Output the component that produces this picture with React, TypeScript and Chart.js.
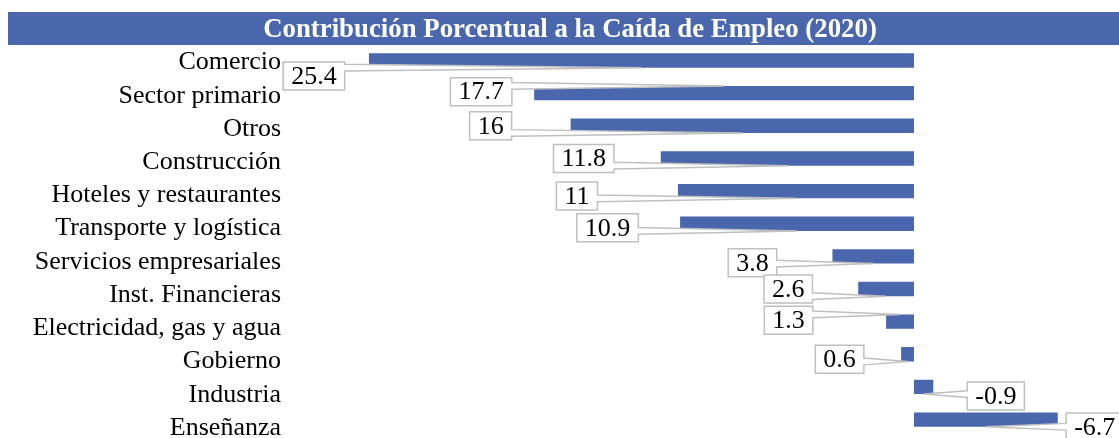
import React, { useEffect, useRef } from 'react';
import { Chart, registerables } from 'chart.js';

Chart.register(...registerables);

const titleText = 'Contribución Porcentual a la Caída de Empleo (2020)';
const categories = [
  'Comercio',
  'Sector primario',
  'Otros',
  'Construcción',
  'Hoteles y restaurantes',
  'Transporte y logística',
  'Servicios empresariales',
  'Inst. Financieras',
  'Electricidad, gas y agua',
  'Gobierno',
  'Industria',
  'Enseñanza',
];
const contribution = [25.4, 17.7, 16, 11.8, 11, 10.9, 3.8, 2.6, 1.3, 0.6, -0.9, -6.7];
const valueLabels = ['25.4', '17.7', '16', '11.8', '11', '10.9', '3.8', '2.6', '1.3', '0.6', '-0.9', '-6.7'];

// callout placement (offset of the label box centre from bar end / bar centre, px)
const calloutDx = [-55, -53, -80, -77, -101, -72.5, -80, -70, -97.5, -61.5, 62.5, 37];
const calloutDy = [15.5, -1.5, 0, 0, 5, 4, 6.5, 0, -1.5, 5, 9, 7.5];

const SERIF = "'Liberation Serif', 'Times New Roman', serif";
const BLUE = '#4A67AE';

const titleBarPlugin = {
  id: 'titleBar',
  beforeDraw(chart: any) {
    const ctx = chart.ctx;
    ctx.save();
    ctx.fillStyle = BLUE;
    ctx.fillRect(0, 4, chart.width, 33);
    ctx.fillStyle = '#FFFFFF';
    ctx.font = `bold 26.8px ${SERIF}`;
    ctx.textAlign = 'center';
    ctx.textBaseline = 'middle';
    ctx.fillText(titleText, 562, 22);
    ctx.restore();
  },
};

const calloutPlugin = {
  id: 'callouts',
  afterDatasetsDraw(chart: any) {
    const ctx = chart.ctx;
    const meta = chart.getDatasetMeta(0);
    ctx.save();
    ctx.font = `26px ${SERIF}`;
    meta.data.forEach((bar: any, i: number) => {
      const p = bar.getProps(['x', 'y', 'base', 'height'], true);
      const tipX = (p.x + p.base) / 2;
      const dy = calloutDy[i];
      const tipY = dy < 0 ? p.y - p.height / 2 : p.y + p.height / 2;
      const text = valueLabels[i];
      const w = ctx.measureText(text).width + 16;
      const h = 28;
      const cx = p.x + calloutDx[i];
      const cy = p.y + dy;
      const L = cx - w / 2, R = cx + w / 2, T = cy - h / 2, B = cy + h / 2;
      const bc = Math.min(Math.max(tipY, T + 0.2 * h), B - 0.2 * h);
      const b1 = bc - 0.12 * h, b2 = bc + 0.12 * h;
      ctx.beginPath();
      ctx.moveTo(L, T);
      ctx.lineTo(R, T);
      if (tipX > R) {
        ctx.lineTo(R, b1);
        ctx.lineTo(tipX, tipY);
        ctx.lineTo(R, b2);
      }
      ctx.lineTo(R, B);
      ctx.lineTo(L, B);
      if (tipX < L) {
        ctx.lineTo(L, b2);
        ctx.lineTo(tipX, tipY);
        ctx.lineTo(L, b1);
      }
      ctx.closePath();
      ctx.fillStyle = '#FFFFFF';
      ctx.fill();
      ctx.strokeStyle = '#BFBFBF';
      ctx.lineWidth = 1.5;
      ctx.stroke();
      ctx.fillStyle = '#000000';
      ctx.textAlign = 'center';
      ctx.textBaseline = 'middle';
      ctx.fillText(text, cx, cy + 1);
    });
    ctx.restore();
  },
};

export default function App() {
  const canvasRef = useRef<HTMLCanvasElement | null>(null);

  useEffect(() => {
    if (!canvasRef.current) return;
    const chart = new Chart(canvasRef.current, {
      type: 'bar',
      data: {
        labels: categories,
        datasets: [
          {
            data: contribution,
            xAxisID: 'x',
            yAxisID: 'y',
            backgroundColor: BLUE,
            borderWidth: 0,
            barPercentage: 0.44,
            categoryPercentage: 1,
          },
        ],
      },
      options: {
        indexAxis: 'y',
        responsive: false,
        animation: false,
        devicePixelRatio: 1,
        layout: { padding: { top: 36.2, bottom: 2.1, left: 0, right: 0 } },
        plugins: {
          legend: { display: false },
          tooltip: { enabled: false },
          title: { display: false },
        },
        scales: {
          x: { display: false, reverse: true, min: -9.553, max: 29.17 },
          y: {
            type: 'category',
            display: false,
            afterFit: (s: any) => {
              s.paddingTop = 0;
              s.paddingBottom = 0;
            },
          },
          yl: {
            type: 'linear',
            axis: 'y',
            position: 'left',
            reverse: true,
            offset: false,
            bounds: 'data',
            grace: 0,
            min: -0.551,
            max: 11.237,
            grid: { display: false, drawTicks: false, offset: false },
            border: { display: false },
            afterBuildTicks: (s: any) => {
              s.ticks = categories.map((_, i) => ({ value: i }));
            },
            ticks: {
              color: '#000000',
              font: { family: SERIF, size: 26 },
              padding: 7,
              autoSkip: false,
              callback: (v: any) => categories[v],
            },
            afterFit: (s: any) => {
              s.width = 280;
              s.paddingTop = 0;
              s.paddingBottom = 0;
            },
          },
        },
      },
      plugins: [titleBarPlugin, calloutPlugin],
    } as any);
    return () => chart.destroy();
  }, []);

  return (
    <div style={{ position: 'fixed', left: 8, top: 8, width: 1111, height: 430 }}>
      <canvas ref={canvasRef} width={1111} height={430} />
    </div>
  );
}
